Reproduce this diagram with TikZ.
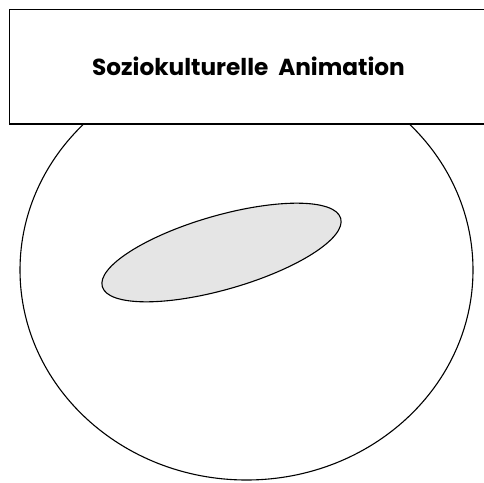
\documentclass[tikz,border=0pt]{standalone}
\usepackage{fontspec}
\setmainfont{Poppins}
\begin{document}
\begin{tikzpicture}[x=1pt,y=-1pt,
  outline/.style={draw=black,line width=1.1pt},
  titlebox/.style={outline,fill=white},
  blob/.style={outline,fill=black!10}]
\useasboundingbox (0,0) rectangle (484,482);
\clip (0,0) rectangle (484,482);
% big circle
\draw[outline] (246.5,270) ellipse [x radius=226.5, y radius=210];
% title box
\draw[titlebox] (9.5,9.5) rectangle (495,124);
\node (title) at (248.5,66) {\fontsize{23.2}{26}\selectfont\bfseries Soziokulturelle\ \ Animation};
% inner grey ellipse
\draw[blob] (221.5,252.5) ellipse [x radius=124, y radius=37, rotate=16];
\end{tikzpicture}
\end{document}
